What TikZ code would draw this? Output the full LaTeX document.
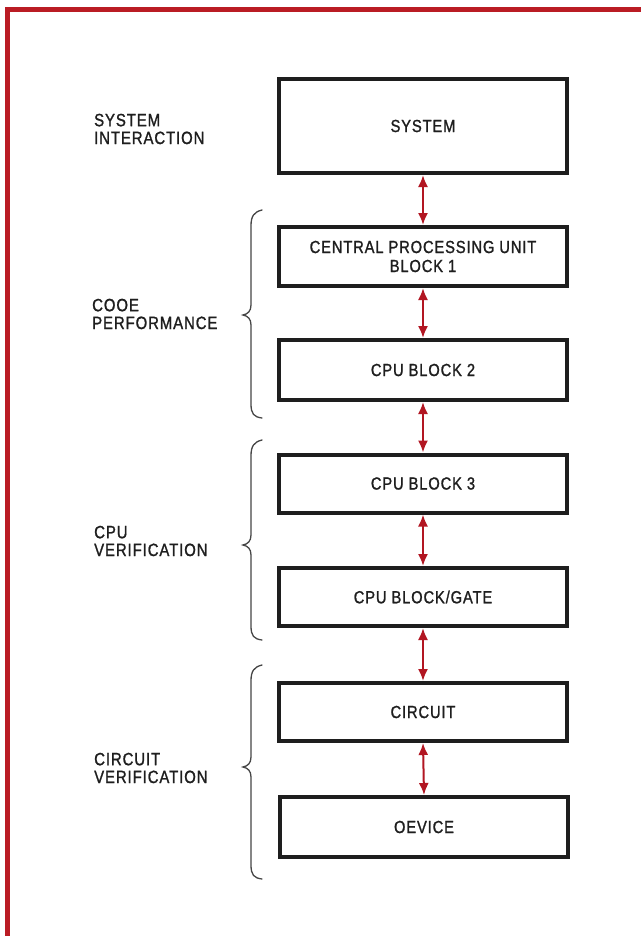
\documentclass[tikz,border=0pt]{standalone}
\usepackage{fontspec}
\setmainfont{Liberation Sans}[FakeStretch=0.84, LetterSpace=5, FakeBold=1.2]
\usetikzlibrary{arrows.meta}
\definecolor{frame}{RGB}{186,28,36}
\definecolor{arrowred}{RGB}{178,22,34}
\definecolor{ink}{RGB}{30,30,30}
\definecolor{bracegray}{RGB}{70,70,70}
\begin{document}
\begin{tikzpicture}[x=1pt,y=-1pt,
  levelbox/.style={draw=ink, line width=4pt, rectangle, minimum width=288pt, inner sep=0pt,
     align=center, font=\fontsize{17.5}{19}\selectfont, text=ink, fill=white},
  sidelabel/.style={anchor=west, align=left, inner sep=0pt, font=\fontsize{17.8}{17.8}\selectfont, text=ink},
  link/.style={draw=arrowred, line width=2pt, {Latex[length=12pt,width=10pt]}-{Latex[length=12pt,width=10pt]}},
  bracepath/.style={draw=bracegray, line width=1.3pt, line cap=round}]
\useasboundingbox (0,0) rectangle (641,936);
\fill[white] (0,0) rectangle (641,936);
% red frame
\draw[frame, line width=5pt] (7,936) -- (7,9.5) -- (641,9.5);

% boxes
\node[levelbox, minimum height=94pt] (sys) at (423,126) {SYSTEM};
\node[levelbox, minimum height=59pt] (b1) at (423,256.5) {CENTRAL PROCESSING UNIT\\BLOCK 1};
\node[levelbox, minimum height=60pt] (b2) at (423,370) {CPU BLOCK 2};
\node[levelbox, minimum height=58pt] (b3) at (423,483.5) {CPU BLOCK 3};
\node[levelbox, minimum height=58pt] (bg) at (423,597) {CPU BLOCK/GATE};
\node[levelbox, minimum height=58pt] (ci) at (423,712) {CIRCUIT};
\node[levelbox, minimum height=60pt] (dv) at (424,827) {OEVICE};

% connectors
\draw[link] (sys.south) -- (b1.north);
\draw[link] (b1.south) -- (b2.north);
\draw[link] (b2.south) -- (b3.north);
\draw[link] (b3.south) -- (bg.north);
\draw[link] (bg.south) -- (ci.north);
\draw[link] (ci.south) -- (dv.north);

% side labels
\node[sidelabel] (l1) at (94,129) {SYSTEM\\INTERACTION};
\node[sidelabel] (l2) at (92,314) {COOE\\PERFORMANCE};
\node[sidelabel] (l3) at (94,541) {CPU\\VERIFICATION};
\node[sidelabel] (l4) at (94,768) {CIRCUIT\\VERIFICATION};

% braces
\draw[bracepath] (262,210) .. controls (254,212) and (251,216) .. (251,226)
  -- (251,305) .. controls (251,311) and (248,314) .. (243,315)
  .. controls (248,316) and (251,319) .. (251,325)
  -- (251,404) .. controls (251,414) and (254,417) .. (262,418);
\draw[bracepath] (262,440) .. controls (254,442) and (251,446) .. (251,456)
  -- (251,535) .. controls (251,541) and (248,544) .. (243,545)
  .. controls (248,546) and (251,549) .. (251,555)
  -- (251,626) .. controls (251,636) and (254,639) .. (262,640);
\draw[bracepath] (262,665) .. controls (254,667) and (251,671) .. (251,681)
  -- (251,757) .. controls (251,763) and (248,766) .. (243,767)
  .. controls (248,768) and (251,771) .. (251,777)
  -- (251,865) .. controls (251,875) and (254,878) .. (262,879);
\end{tikzpicture}
\end{document}
